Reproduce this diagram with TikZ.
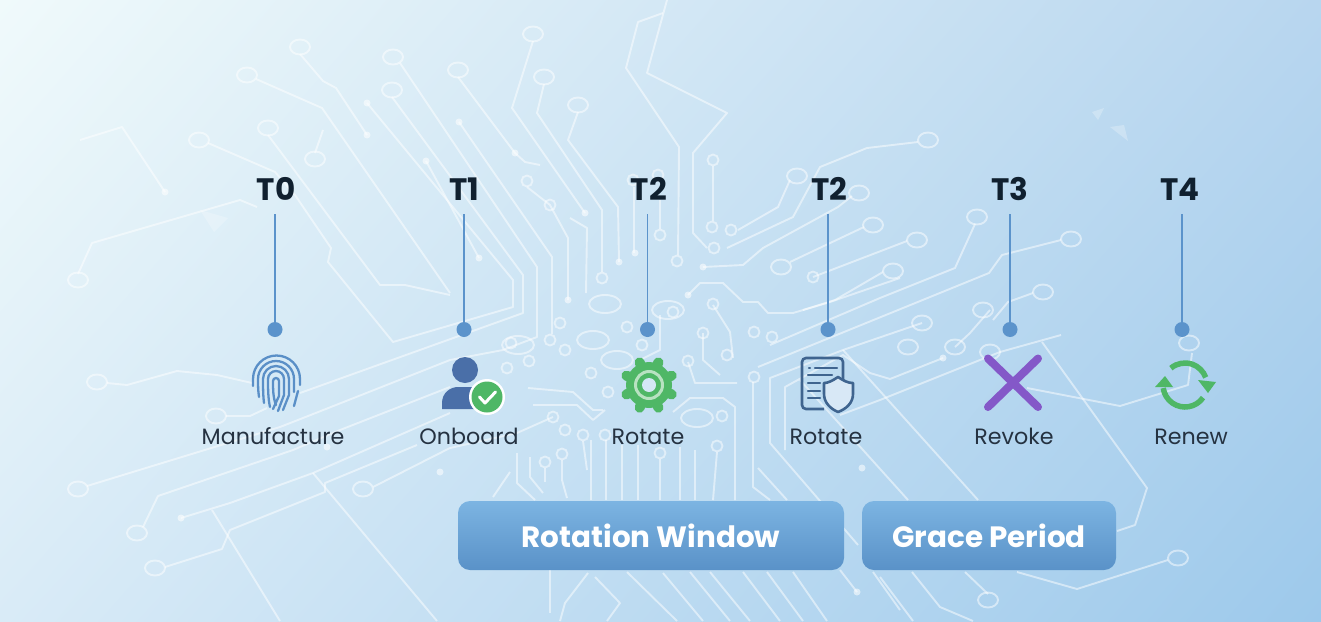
\documentclass[tikz,border=0pt]{standalone}
\usepackage{fontspec}
\setmainfont{Poppins}
\usetikzlibrary{shadings}
\definecolor{bgtl}{HTML}{F0FAFB}
\definecolor{bgtr}{HTML}{B8D6EF}
\definecolor{bgbl}{HTML}{D9EBF7}
\definecolor{bgbr}{HTML}{9DC9EB}
\definecolor{stemblue}{HTML}{5B93CB}
\definecolor{inkdark}{HTML}{10202F}
\definecolor{labelink}{HTML}{253241}
\definecolor{printblue}{HTML}{5A8FC7}
\definecolor{personblue}{HTML}{4A6FA8}
\definecolor{okgreen}{HTML}{4FB766}
\definecolor{docblue}{HTML}{3F648F}
\definecolor{crosspurple}{HTML}{8458C8}
\definecolor{bartop}{HTML}{7CB4E2}
\definecolor{barbot}{HTML}{5A92C8}
\tikzset{
  trace/.style={draw=white,draw opacity=.5,line width=1.9pt,line join=round},
  pad/.style={trace,x radius=10pt,y radius=7.5pt},
  ring/.style={trace,x radius=5.5pt,y radius=5.5pt},
  blob/.style={trace,x radius=16pt,y radius=9pt},
  via/.style={fill=white,fill opacity=.55,x radius=3.5pt,y radius=3.5pt},
  tlabel/.style={font=\bfseries\fontsize{31}{31}\selectfont,text=inkdark,minimum height=50pt,inner sep=0pt},
  tdot/.style={circle,fill=stemblue,minimum size=15pt,inner sep=0pt},
  stem/.style={draw=stemblue,line width=1.5pt},
  caption/.style={font=\fontsize{22.2}{22.2}\selectfont,text=labelink,inner sep=0pt,text height=16pt,text depth=0pt},
  bar/.style={rounded corners=12pt,top color=bartop,bottom color=barbot,text=white,
    font=\bfseries\fontsize{29.4}{29.4}\selectfont,minimum height=69pt,inner sep=0pt},
  print/.style={draw=printblue,line width=2.3pt,line cap=round},
  docline/.style={draw=docblue,line width=2.4pt,line cap=round}
}
\begin{document}
\begin{tikzpicture}[x=1pt,y=-1pt]
\useasboundingbox (0,0) rectangle (1321,621);
\shade[upper left=bgtl,upper right=bgtr,lower left=bgbl,lower right=bgbr] (0,0) rectangle (1321,621);

% circuit, upper left
\draw[trace] (300,54) -- (323,81) -- (336,88) -- (367,135);
\draw[trace] (256,79) -- (322,108) -- (450,293);
\draw[trace] (268,135) -- (380,285) -- (405,285) -- (450,295);
\draw[trace] (208,143) -- (275,172) -- (295,195) -- (331,248) -- (328,262) -- (393,342) -- (513,307) -- (513,280) -- (367,103);
\draw[trace] (80,140) -- (122,127) -- (165,192);
\draw[trace] (78,274) -- (92,243) -- (240,200) -- (257,207);
\draw[trace] (315,153) -- (323,130);
\draw[trace] (400,63) -- (537,267) -- (537,337) -- (503,350) -- (450,360) -- (303,418) -- (280,427) -- (87,486);
\draw[trace] (392,97) -- (523,275) -- (523,313) -- (300,393);
\draw[trace] (459,122) -- (552,257) -- (552,334);
\draw[trace] (426,161) -- (479,258);
\draw[trace] (458,77) -- (515,153) -- (525,162) -- (540,165);
\draw[trace] (533,41) -- (512,108) -- (585,213);
\draw[trace] (544,84) -- (537,113) -- (602,210) -- (602,272);
\draw[trace] (578,112) -- (568,140) -- (618,207) -- (619,262);
\draw[trace] (527,187) -- (550,205) -- (568,238) -- (568,300);
\draw[trace] (570,218) -- (587,228) -- (586,293);
\draw[trace] (667,0) -- (647,73) -- (727,113) -- (693,153) -- (693,233) -- (707,248);
\draw[trace] (663,13) -- (638,22) -- (626,68) -- (679,147) -- (678,255);
\draw[trace] (713,166) -- (713,221);
\draw[trace] (634,187) -- (634,253);
\draw[trace] (660,200) -- (660,229);

% circuit, upper right
\draw[trace] (790,180) -- (778,207) -- (738,230);
\draw[trace] (918,142) -- (867,148) -- (820,167) -- (793,217) -- (727,248);
\draw[trace] (852,196) -- (838,207) -- (763,248) -- (743,265) -- (703,267);
\draw[trace] (790,262) -- (864,227);
\draw[trace] (907,241) -- (813,277);
\draw[trace] (883,272) -- (835,300) -- (803,310);
\draw[trace] (975,224) -- (955,268) -- (880,298) -- (770,345);
\draw[trace] (1061,240) -- (1002,255) -- (989,273) -- (758,367);
\draw[trace] (1033,293) -- (1008,302) -- (993,320);
\draw[trace] (1061,335) -- (1000,352) -- (880,400) -- (840,415);
\draw[trace] (858,545) -- (770,443) -- (770,378) -- (843,350) -- (922,323);
\draw[trace] (785,450) -- (785,387) -- (843,355) -- (870,373) -- (890,379) -- (943,358);
\draw[trace] (990,310) -- (970,333) -- (955,347);

% circuit, right side
\draw[trace] (1042,342) -- (1147,488) -- (1135,525) -- (1117,531);
\draw[trace] (1027,388) -- (1120,406) -- (1188,385) -- (1192,353);
\draw[trace] (988,594) -- (965,572);
\draw[trace] (912,572) -- (940,607) -- (973,621);
\draw[trace] (880,577) -- (913,621);
\draw[trace] (1168,560) -- (1077,589) -- (1017,572);
\draw[trace] (843,350) -- (978,500);
\draw[trace] (800,380) -- (908,500);

% circuit, lower left
\draw[trace] (107,383) -- (127,385) -- (177,371) -- (217,375) -- (252,383);
\draw[trace] (226,416) -- (250,416) -- (267,408);
\draw[trace] (450,387) -- (340,430) -- (293,450) -- (158,496) -- (143,527);
\draw[trace] (450,413) -- (313,473) -- (230,503) -- (181,518);
\draw[trace] (373,487) -- (450,448) -- (517,433) -- (553,417);
\draw[trace] (417,445) -- (325,483) -- (325,492) -- (230,530) -- (222,549) -- (165,567);
\draw[trace] (212,510) -- (280,621);
\draw[trace] (313,473) -- (437,621);

% circuit, centre
\draw[trace] (533,405) -- (577,405) -- (593,420) -- (605,410);
\draw[trace] (528,388) -- (573,392) -- (593,410) -- (603,410);
\draw[trace] (688,295) -- (700,283) -- (723,283) -- (743,302) -- (758,302) -- (768,313) -- (793,313) -- (827,303) -- (900,278);
\draw[trace] (713,305) -- (730,332) -- (733,358);
\draw[trace] (703,333) -- (703,360) -- (720,375);
\draw[trace] (688,362) -- (695,383) -- (737,383);
\draw[trace] (735,500) -- (735,407) -- (723,398) -- (690,398) -- (673,412);
\draw[trace] (753,382) -- (753,487) -- (770,500);
\draw[trace] (758,468) -- (787,500);
\draw[trace] (591,440) -- (591,500);
\draw[trace] (606,440) -- (606,500);
\draw[trace] (622,445) -- (622,500);
\draw[trace] (638,445) -- (638,500);
\draw[trace] (660,459) -- (660,500);
\draw[trace] (680,447) -- (680,500);
\draw[trace] (695,450) -- (695,500);
\draw[trace] (717,452) -- (713,500);
\draw[trace] (517,453) -- (517,483) -- (535,500);
\draw[trace] (493,497) -- (510,472);
\draw[trace] (530,457) -- (530,477) -- (543,493);
\draw[trace] (545,468) -- (545,482);
\draw[trace] (562,460) -- (562,480) -- (567,498);
\draw[trace] (583,441) -- (587,470);
\draw[trace] (660,315) -- (660,350) -- (640,360);

% circuit, below the bars
\draw[trace] (550,570) -- (550,613);
\draw[trace] (588,573) -- (565,603) -- (560,621);
\draw[trace] (595,577) -- (620,603) -- (607,621);
\draw[trace] (627,572) -- (677,621);
\draw[trace] (663,573) -- (703,621);
\draw[trace] (690,572) -- (730,621);
\draw[trace] (710,572) -- (750,621);
\draw[trace] (743,572) -- (780,621);
\draw[trace] (767,572) -- (803,621);
\draw[trace] (793,572) -- (827,621);
\draw[trace] (840,570) -- (857,592);
\draw[trace] (873,572) -- (900,610);

% pads and rings
\draw[pad] (300,47) circle[] (247,75) circle[] (268,128) circle[] (199,140) circle[] (315,159) circle[]
  (78,280) circle[] (393,57) circle[] (392,90) circle[] (458,70) circle[] (533,34) circle[] (544,77) circle[]
  (578,105) circle[] (797,176) circle[] (859,193) circle[] (873,225) circle[] (781,267) circle[]
  (928,140) circle[] (917,240) circle[] (893,271) circle[] (977,217) circle[] (1071,239) circle[]
  (1043,292) circle[] (983,310) circle[] (922,323) circle[] (955,347) circle[] (908,347) circle[]
  (990,352) circle[] (1189,343) circle[] (1178,558) circle[] (988,600) circle[] (97,382) circle[]
  (216,416) circle[] (78,489) circle[] (137,533) circle[] (155,568) circle[] (363,489) circle[];
\draw[ring] (527,181) circle[] (550,205) circle[] (602,278) circle[] (660,235) circle[] (677,261) circle[]
  (713,160) circle[] (712,227) circle[] (731,230) circle[] (714,248) circle[] (813,277) circle[]
  (560,323) circle[] (550,340) circle[] (565,350) circle[] (529,361) circle[] (507,368) circle[]
  (511,343) circle[] (627,327) circle[] (642,345) circle[] (673,312) circle[] (703,333) circle[]
  (727,355) circle[] (754,332) circle[] (713,304) circle[] (772,337) circle[] (688,361) circle[]
  (754,377) circle[] (722,416) circle[] (608,392) circle[] (591,373) circle[] (565,430) circle[]
  (583,435) circle[] (553,417) circle[] (545,462) circle[] (562,454) circle[] (660,453) circle[]
  (717,446) circle[] (605,435) circle[] (633,180) circle[] (658,175) circle[];
\draw[blob] (605,304) circle[] (593,340) circle[] (617,360) circle[] (697,418) circle[] (668,310) circle[] (518,345) circle[];
\fill[via] (367,135) circle[] (165,192) circle[] (367,103) circle[] (459,122) circle[] (426,161) circle[]
  (479,258) circle[] (515,153) circle[] (585,213) circle[] (619,262) circle[] (568,300) circle[]
  (635,253) circle[] (688,295) circle[] (703,267) circle[] (943,358) circle[] (181,518) circle[]
  (440,472) circle[] (857,592) circle[] (862,468) circle[] (327,447) circle[];

% faint marks
\fill[white,opacity=.22] (200,210) -- (228,218) -- (214,232) -- cycle;
\fill[white,opacity=.25] (1092,112) -- (1104,108) -- (1098,120) -- cycle;
\fill[white,opacity=.25] (1110,127) -- (1124,125) -- (1128,141) -- cycle;

% labels, dots, stems
\node[tlabel] (t0) at (276,189) {T0};
\node[tlabel] (t1) at (464,189) {T1};
\node[tlabel] (t2) at (649,189) {T2};
\node[tlabel] (t2b) at (829,189) {T2};
\node[tlabel] (t3) at (1010,189) {T3};
\node[tlabel] (t4) at (1180,189) {T4};
\node[tdot] (d0) at (275,329.5) {};
\node[tdot] (d1) at (464,329.5) {};
\node[tdot] (d2) at (647.5,329.5) {};
\node[tdot] (d2b) at (828,329.5) {};
\node[tdot] (d3) at (1010,329.5) {};
\node[tdot] (d4) at (1182,329.5) {};
\draw[stem] (d0 |- t0.south) -- (d0);
\draw[stem] (d1 |- t1.south) -- (d1);
\draw[stem] (d2 |- t2.south) -- (d2);
\draw[stem] (d2b |- t2b.south) -- (d2b);
\draw[stem] (d3 |- t3.south) -- (d3);
\draw[stem] (d4 |- t4.south) -- (d4);
\node[caption] (c0) at (273,436) {Manufacture};
\node[caption] (c1) at (469,436) {Onboard};
\node[caption] (c2) at (648,436) {Rotate};
\node[caption] (c2b) at (826,436) {Rotate};
\node[caption] (c3) at (1014,436) {Revoke};
\node[caption] (c4) at (1191,436) {Renew};

% fingerprint
\draw[print] (253,386) -- (253,379) arc (180:0:23.5pt) -- (300,385);
\draw[print] (298,391) -- (294,406);
\draw[print] (259,397) .. controls (258,390) and (258,385) .. (258,379) arc (180:0:18pt) -- (294,392);
\draw[print] (264,403) .. controls (263,395) and (263,385) .. (263,379) arc (180:0:13pt) -- (289,395) -- (283,410);
\draw[print] (270,407) .. controls (268,398) and (268,388) .. (268,379) arc (180:0:8pt) -- (284,395) -- (278,411);
\draw[print] (276,405) .. controls (273,398) and (273,388) .. (273,381) arc (180:0:3pt) -- (279,396) -- (273,409);

% person with check
\fill[personblue] (465,370) circle (13pt);
\fill[personblue] (442,409) -- (442,403) .. controls (442,393) and (450,387) .. (458,387) -- (474,387) .. controls (484,387) and (488,395) .. (488,409) -- cycle;
\fill[white] (487,397) circle (18pt);
\fill[okgreen] (487,397) circle (15.5pt);
\draw[draw=white,line width=3pt,line cap=round,line join=round] (479.5,397) -- (485,403) -- (495.5,392);

% gear
\fill[okgreen] (649,385) circle (23pt);
\foreach \a in {0,45,...,315} \draw[okgreen,line width=10pt,line cap=round] (649,385) ++(\a+22.5:20pt) -- ++(\a+22.5:4.5pt);
\draw[draw=white,draw opacity=.6,line width=3pt] (649,385) circle (13.5pt);
\fill[bgtr!60!white] (649,385) circle (7pt);

% document with shield
\draw[draw=docblue,line width=2.6pt,rounded corners=4pt] (824,409) -- (802,409) -- (802,358) -- (843,358) -- (843,380);
\draw[docline] (809,368) -- (810,368);
\draw[docline] (815,368) -- (837,368);
\draw[docline] (808,375) -- (832,375);
\draw[docline] (808,383) -- (820,383);
\draw[docline] (808,391) -- (820,391);
\draw[docline] (808,398) -- (820,398);
\draw[draw=docblue,fill=bgtr!55!white,line width=2.6pt,line join=round] (838,377) .. controls (832,381) and (828,383) .. (824,383) -- (824,394) .. controls (824,403) and (831,409) .. (838,412) .. controls (846,409) and (853,403) .. (853,394) -- (853,383) .. controls (848,383) and (844,381) .. (838,377) -- cycle;

% cross
\draw[crosspurple,line width=8pt,line cap=round] (988,358.5) -- (1038,407);
\draw[crosspurple,line width=8pt,line cap=round] (1038,358.5) -- (988,407);

% renew arrows
\draw[okgreen,line width=5.5pt] (1185,385) ++(130:22pt) arc (130:20:22pt);
\draw[okgreen,line width=5.5pt] (1185,385) ++(-35:22pt) arc (-35:-172:22pt);
\fill[okgreen] (1198,380) -- (1216,382) -- (1208,393) -- cycle;
\fill[okgreen] (1155,387) -- (1173,387) -- (1165,376) -- cycle;

% bars
\node[bar,minimum width=386pt] (rw) at (651,535.5) {Rotation Window};
\node[bar,minimum width=254pt] (gp) at (989,535.5) {Grace Period};
\end{tikzpicture}
\end{document}
